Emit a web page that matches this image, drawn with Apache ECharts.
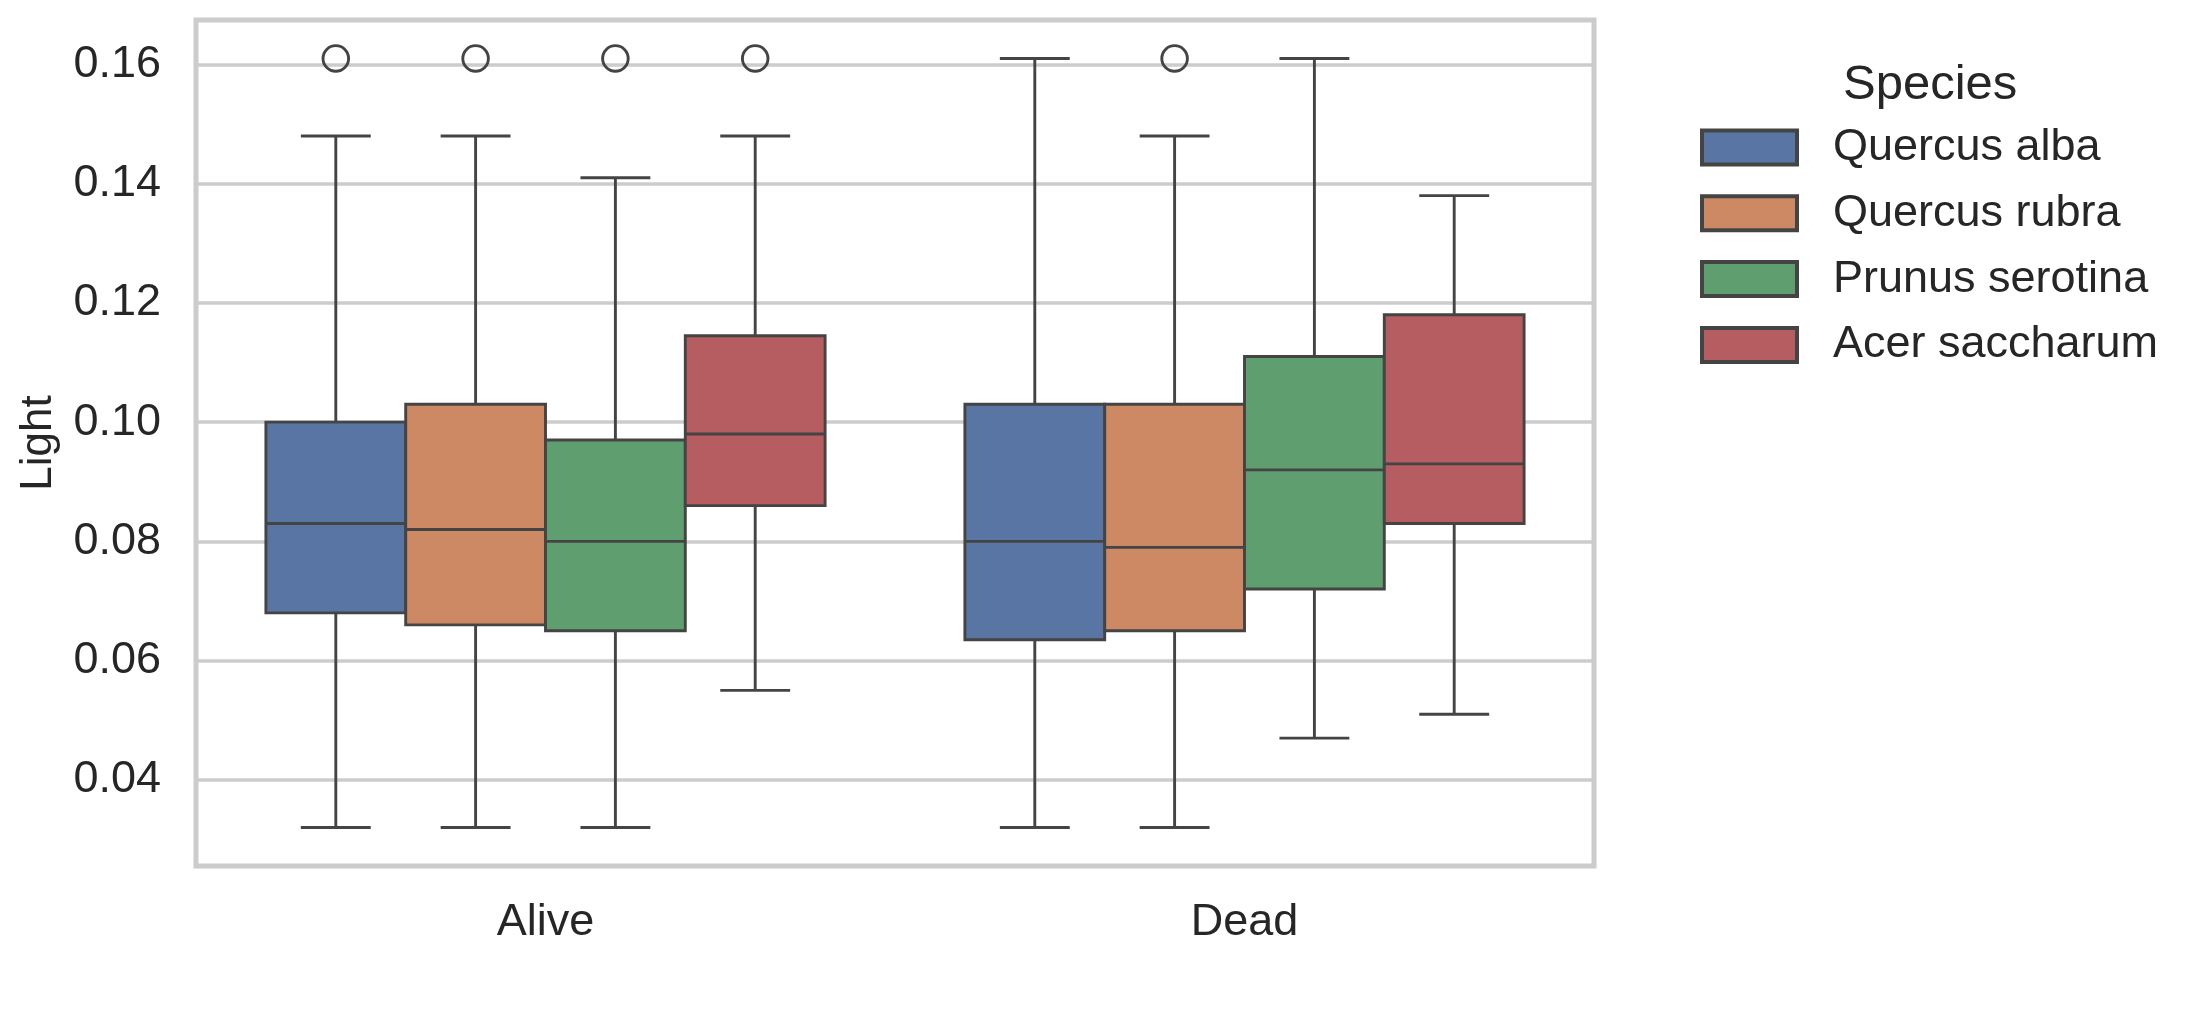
<!doctype html>
<html>
<head>
  <meta charset="UTF-8" />
  <title>Light by status and species</title>
  <script src="https://cdn.jsdelivr.net/npm/echarts@6.0.0/dist/echarts.min.js"></script>
  <style>
    html, body { margin: 0; padding: 0; background: #ffffff; }
    #chart { width: 2200px; height: 1016px; }
  </style>
</head>
<body>
  <div id="chart"></div>
  <script>
    // categories on the x axis and the hue levels
    const categories = ["Alive", "Dead"];
    const species = ["Quercus alba", "Quercus rubra", "Prunus serotina", "Acer saccharum"];
    const colors = ["#5875a4", "#cc8963", "#5f9e6e", "#b55d60"];

    // box stats per category: [min, q1, median, q3, max]
    const quercusAlba = [[0.032, 0.068, 0.083, 0.100, 0.148], [0.032, 0.0635, 0.080, 0.103, 0.161]];
    const quercusRubra = [[0.032, 0.066, 0.082, 0.103, 0.148], [0.032, 0.065, 0.079, 0.103, 0.148]];
    const prunusSerotina = [[0.032, 0.065, 0.080, 0.097, 0.141], [0.047, 0.072, 0.092, 0.111, 0.161]];
    const acerSaccharum = [[0.055, 0.086, 0.098, 0.1145, 0.148], [0.051, 0.083, 0.093, 0.118, 0.138]];

    // outlier per category ("-" when there is none)
    const quercusAlbaOut = [0.161, "-"];
    const quercusRubraOut = [0.161, 0.161];
    const prunusSerotinaOut = [0.161, "-"];
    const acerSaccharumOut = [0.161, "-"];

    const yTicks = [0.04, 0.06, 0.08, 0.10, 0.12, 0.14, 0.16];

    const stats = [quercusAlba, quercusRubra, prunusSerotina, acerSaccharum];
    const outs = [quercusAlbaOut, quercusRubraOut, prunusSerotinaOut, acerSaccharumOut];

    const lineColor = "#444444";
    const lineW = 2.9;

    const chart = echarts.init(document.getElementById("chart"));

    const renderBox = (params, api) => {
      const si = params.seriesIndex;
      const cat = api.value(0);
      const band = api.size([1, 0])[0];
      const boxW = band * 0.8 / species.length;
      const cx = api.coord([cat, 0])[0] + (si - (species.length - 1) / 2) * boxW;
      const y = (i) => api.coord([cat, api.value(i)])[1];
      const yMin = y(1), yQ1 = y(2), yMed = y(3), yQ3 = y(4), yMax = y(5);
      const line = { stroke: lineColor, lineWidth: lineW, lineCap: "butt" };
      const children = [
        { type: "line", shape: { x1: cx, y1: yQ3, x2: cx, y2: yMax }, style: line },
        { type: "line", shape: { x1: cx, y1: yQ1, x2: cx, y2: yMin }, style: line },
        { type: "line", shape: { x1: cx - boxW / 4, y1: yMax, x2: cx + boxW / 4, y2: yMax }, style: line },
        { type: "line", shape: { x1: cx - boxW / 4, y1: yMin, x2: cx + boxW / 4, y2: yMin }, style: line },
        {
          type: "rect",
          shape: { x: cx - boxW / 2, y: yQ3, width: boxW, height: yQ1 - yQ3 },
          style: { fill: colors[si], stroke: lineColor, lineWidth: lineW },
        },
        { type: "line", shape: { x1: cx - boxW / 2, y1: yMed, x2: cx + boxW / 2, y2: yMed }, style: line },
      ];
      const outVal = api.value(6);
      if (!isNaN(outVal)) {
        const oy = api.coord([cat, outVal])[1];
        children.push({
          type: "circle",
          shape: { cx: cx, cy: oy, r: 12.8 },
          style: { fill: "none", stroke: lineColor, lineWidth: lineW },
        });
      }
      return { type: "group", children: children };
    };

    const series = species.map((name, si) => ({
      name: name,
      type: "custom",
      renderItem: renderBox,
      itemStyle: { color: colors[si], borderColor: lineColor, borderWidth: 4 },
      encode: { x: 0, y: [1, 2, 3, 4, 5] },
      data: categories.map((c, ci) => [ci, ...stats[si][ci], outs[si][ci]]),
    }));

    const option = {
      animation: false,
      textStyle: { fontFamily: "Liberation Sans, Arial, sans-serif", color: "#262626" },
      grid: {
        left: 196,
        right: 606,
        top: 20,
        bottom: 150,
        show: true,
        borderColor: "#cccccc",
        borderWidth: 5,
        backgroundColor: "transparent",
      },
      graphic: [
        {
          type: "text",
          left: 1843,
          top: 61,
          style: { text: "Species", fontSize: 49, fill: "#262626", fontFamily: "Liberation Sans, Arial, sans-serif" },
        },
      ],
      legend: {
        orient: "vertical",
        left: 1700,
        top: 125,
        padding: 0,
        itemWidth: 95,
        itemHeight: 34,
        itemGap: 20.8,
        selectedMode: false,
        icon: "rect",
        textStyle: { fontSize: 45, color: "#262626", padding: [0, 0, 0, 31] },
        data: species.map((name, si) => ({
          name: name,
          itemStyle: { color: colors[si], borderColor: lineColor, borderWidth: 4 },
        })),
      },
      xAxis: {
        type: "category",
        data: categories,
        axisLine: { show: false },
        axisTick: { show: false },
        splitLine: { show: false },
        axisLabel: { fontSize: 45, color: "#262626", margin: 34 },
      },
      yAxis: {
        type: "value",
        min: 0.02555,
        max: 0.16745,
        splitNumber: 7,
        name: "Light",
        nameLocation: "middle",
        nameGap: 135,
        nameTextStyle: { fontSize: 44, color: "#262626" },
        axisLine: { show: false },
        axisTick: { show: false },
        splitLine: { show: true, lineStyle: { color: "#cccccc", width: 3.6 } },
        axisLabel: {
          fontSize: 45,
          color: "#262626",
          margin: 35,
          showMinLabel: false,
          showMaxLabel: false,
          formatter: (v) => (yTicks.some((t) => Math.abs(t - v) < 1e-9) ? v.toFixed(2) : ""),
        },
      },
      series: series,
    };

    chart.setOption(option);
  </script>
</body>
</html>
